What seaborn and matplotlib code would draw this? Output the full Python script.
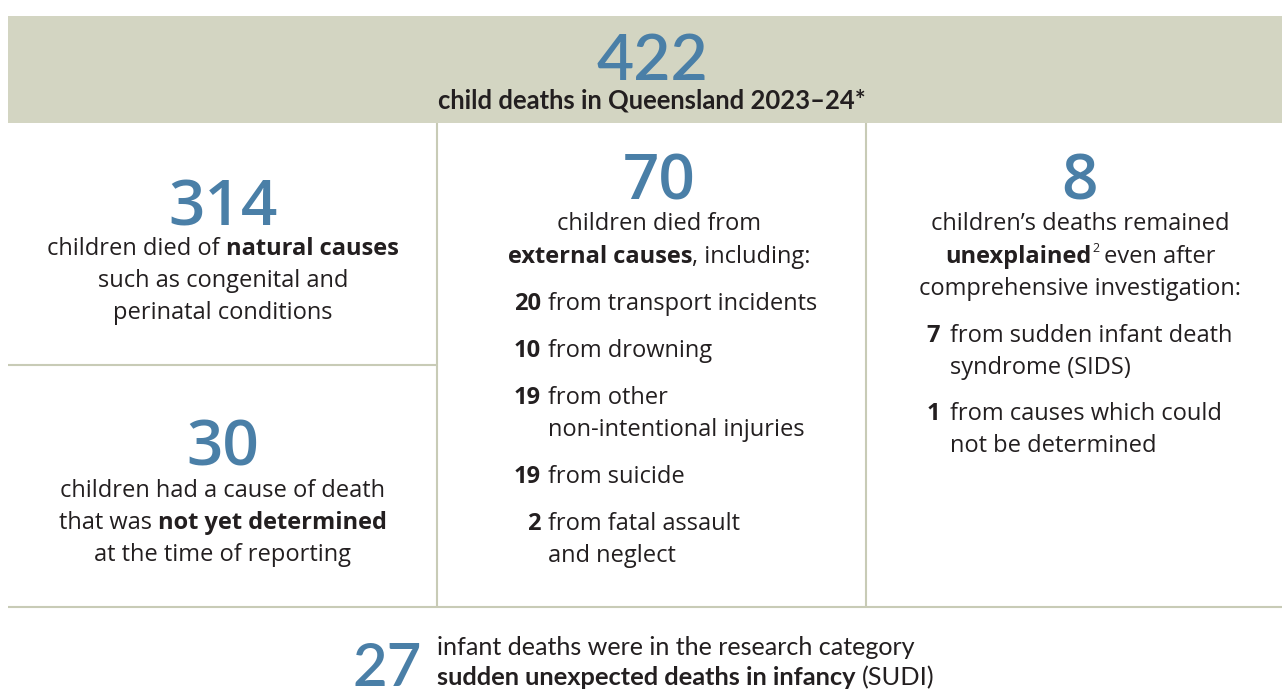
import matplotlib
matplotlib.use("Agg")
import matplotlib.pyplot as plt
from matplotlib.patches import Rectangle
import seaborn as sns

# ---- data ----
total_deaths = 422
total_label = "child deaths in Queensland 2023–24*"

natural_deaths = 314
natural_lines = [[("children died of", "normal"), (" natural causes", "bold")],
                 [("such as congenital and", "normal")],
                 [("perinatal conditions", "normal")]]

pending_deaths = 30
pending_lines = [[("children had a cause of death", "normal")],
                 [("that was", "normal"), (" not yet determined", "bold")],
                 [("at the time of reporting", "normal")]]

external_deaths = 70
external_lines = [[("children died from", "normal")],
                  [("external causes", "bold"), (", including:", "normal")]]
external_counts = [20, 10, 19, 19, 2]
external_labels = [["from transport incidents"],
                   ["from drowning"],
                   ["from other", "non-intentional injuries"],
                   ["from suicide"],
                   ["from fatal assault", "and neglect"]]

unexplained_deaths = 8
unexplained_counts = [7, 1]
unexplained_labels = [["from sudden infant death", "syndrome (SIDS)"],
                      ["from causes which could", "not be determined"]]

sudi_deaths = 27
sudi_line1 = [("infant deaths were in the research category", "normal")]
sudi_line2 = [("sudden unexpected deaths in infancy", "bold"), (" (SUDI)", "normal")]

# ---- style ----
W, H = 1282, 698
BAND = "#d3d5c2"
RULE = "#c8cbb6"
BLUE = "#4a7fa7"
INK = "#231f20"
BODY = ["Open Sans", "DejaVu Sans"]
NARROW = ["Lato", "DejaVu Sans"]
FS = 17

sns.set_theme(style="white")
plt.rcParams["font.family"] = BODY

fig = plt.figure(figsize=(W / 100, H / 100), dpi=100)
ax = fig.add_axes([0, 0, 1, 1])
ax.set_xlim(0, W)
ax.set_ylim(H, 0)
ax.axis("off")
renderer = fig.canvas.get_renderer()


def width_of(s, size, weight, family):
    # measure with guards so leading/trailing spaces count
    t1 = ax.text(0, 0, "|" + s + "|", fontsize=size, fontweight=weight, family=family)
    t2 = ax.text(0, 0, "||", fontsize=size, fontweight=weight, family=family)
    w = t1.get_window_extent(renderer).width - t2.get_window_extent(renderer).width
    t1.remove()
    t2.remove()
    return w


def fit_size(parts, target, family):
    w = sum(width_of(s, 20, wt, family) for s, wt in parts)
    return 20 * target / w


def rich(x, y, parts, size=FS, ha="center", family=BODY, color=INK):
    widths = [width_of(s, size, w, family) for s, w in parts]
    x0 = x - sum(widths) / 2 if ha == "center" else x
    for (s, w), wd in zip(parts, widths):
        lead = len(s) - len(s.lstrip(" "))
        off = width_of(" " * lead, size, w, family) if lead else 0
        ax.text(x0 + off, y, s.strip(" "), fontsize=size, fontweight=w,
                family=family, color=color, va="baseline", ha="left")
        x0 += wd
    return x0


def big(x, y, value, size=46, family=BODY, ha="center", weight="semibold"):
    ax.text(x, y, str(value), fontsize=size, fontweight=weight, color=BLUE,
            family=family, va="baseline", ha=ha)


# header band and rules
ax.add_patch(Rectangle((8, 16), W - 8, 107, facecolor=BAND, edgecolor="none"))
ax.vlines([437, 866], 123, 607, color=RULE, lw=1.5)
ax.hlines(365, 8, 437, color=RULE, lw=1.5)
ax.hlines(607, 8, W, color=RULE, lw=1.5)

# header
big(652, 80, total_deaths, size=fit_size([(str(total_deaths), "semibold")], 111, NARROW),
    family=NARROW)
head = [(total_label, "bold")]
rich(652, 108, head, size=fit_size(head, 429, NARROW), family=NARROW)

# left column
big(223, 225, natural_deaths)
for i, parts in enumerate(natural_lines):
    rich(223, 255 + 32 * i, parts)
big(223, 465, pending_deaths)
for i, parts in enumerate(pending_lines):
    rich(223, 497 + 32 * i, parts)

# middle column
big(659, 199, external_deaths)
for i, parts in enumerate(external_lines):
    rich(659, 230 + 33 * i, parts)
y = 310
for n, lines in zip(external_counts, external_labels):
    ax.text(541, y, str(n), fontsize=FS, fontweight="bold", color=INK,
            va="baseline", ha="right")
    for j, s in enumerate(lines):
        ax.text(548, y + 32 * j, s, fontsize=FS, color=INK, va="baseline", ha="left")
    y += 32 * len(lines) + 15

# right column
big(1080, 199, unexplained_deaths)
rich(1080, 230, [("children’s deaths remained", "normal")])
end = rich(1080, 263, [("unexplained", "bold"), ("  even after", "normal")])
w_after = width_of("  even after", FS, "normal", BODY)
ax.text(end - w_after + 1, 252, "2", fontsize=9, color=INK, va="baseline", ha="left")
rich(1080, 295, [("comprehensive investigation:", "normal")])
y = 342
for n, lines in zip(unexplained_counts, unexplained_labels):
    ax.text(940, y, str(n), fontsize=FS, fontweight="bold", color=INK,
            va="baseline", ha="right")
    for j, s in enumerate(lines):
        ax.text(950, y + 32 * j, s, fontsize=FS, color=INK, va="baseline", ha="left")
    y += 32 * len(lines) + 14

# bottom strip
big(422, 686, sudi_deaths, size=fit_size([(str(sudi_deaths), "semibold")], 66, NARROW) * 1.05,
    family=NARROW, ha="right")
rich(437, 655, sudi_line1, size=fit_size(sudi_line1, 481, NARROW), ha="left", family=NARROW)
rich(437, 685, sudi_line2, size=fit_size(sudi_line2, 499, NARROW), ha="left", family=NARROW)

fig.savefig("out.png", dpi=100, facecolor="white")
